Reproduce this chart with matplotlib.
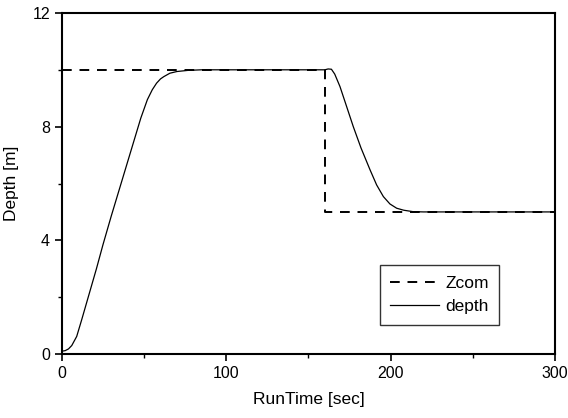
import matplotlib
matplotlib.use("Agg")
import matplotlib.pyplot as plt
from matplotlib.ticker import MultipleLocator

# Data
zcom_time = [0, 160, 160, 300]
zcom_depth = [10, 10, 5, 5]

depth_time = [0, 2, 4, 6, 9, 12, 16, 21, 25, 30, 36, 42, 48, 52, 55, 57.6, 60, 62, 65.7, 70, 76.7, 85, 100, 130, 160, 162, 164, 166, 169.2,
              173, 177.3, 182, 187.5, 191.5, 195.6, 199.6, 203.7, 208, 213.6, 220, 250, 300]
depth_vals = [0.1, 0.12, 0.18, 0.3, 0.62, 1.2, 2.0, 3.0, 3.85, 4.85, 6.0, 7.15, 8.3, 8.95, 9.3, 9.53, 9.68, 9.76, 9.88, 9.94, 9.98, 10.0, 10.0, 10.0, 10.0, 10.03, 10.02, 9.85, 9.41,
              8.75, 8.0, 7.25, 6.48, 5.95, 5.54, 5.28, 5.13, 5.06, 5.01, 5.0, 5.0, 5.0]

xticks = [0, 100, 200, 300]
yticks = [0, 4, 8, 12]

plt.rcParams['font.family'] = ['Liberation Sans', 'DejaVu Sans']

fig = plt.figure(figsize=(5.68, 4.18), dpi=100)
ax = fig.add_axes([0.109, 0.153, 0.868, 0.816])

ax.plot(zcom_time, zcom_depth, color='black', linestyle=(0, (5, 4)), linewidth=1.4, label='Zcom')
ax.plot(depth_time, depth_vals, color='black', linestyle='-', linewidth=0.9, label='depth')

ax.set_xlim(0, 300)
ax.set_ylim(0, 12)
ax.set_xticks(xticks)
ax.set_yticks(yticks)
ax.xaxis.set_minor_locator(MultipleLocator(50))
ax.yaxis.set_minor_locator(MultipleLocator(2))
ax.tick_params(which='major', direction='out', length=5, width=1.2, labelsize=11.5)
ax.tick_params(which='minor', direction='out', length=3, width=1)
for s in ax.spines.values():
    s.set_linewidth(1.5)

ax.set_xlabel('RunTime [sec]', fontsize=12.5, labelpad=8)
ax.set_ylabel('Depth [m]', fontsize=12.5, labelpad=10)

leg = ax.legend(loc='lower right', bbox_to_anchor=(0.905, 0.06), fontsize=12.5, frameon=True,
                fancybox=False, edgecolor='black', handlelength=2.8, handletextpad=0.4,
                borderpad=0.6, labelspacing=0.5)
leg.get_frame().set_linewidth(1.0)

fig.savefig('out.png', dpi=100)
